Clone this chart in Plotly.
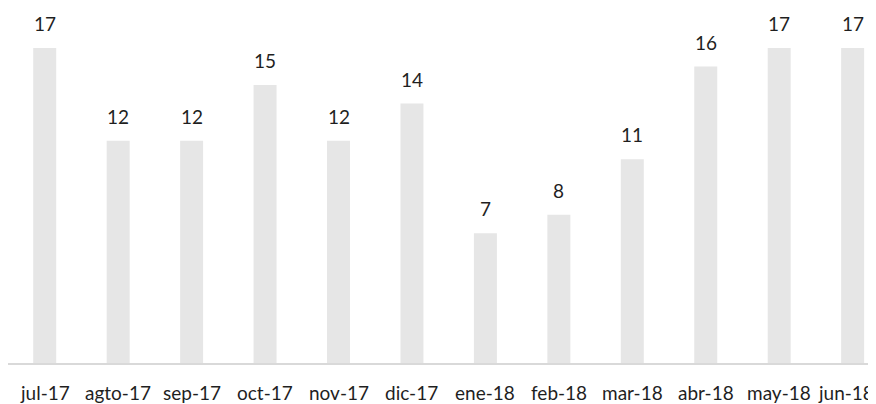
import plotly.graph_objects as go

categories = ["jul-17", "agto-17", "sep-17", "oct-17", "nov-17", "dic-17",
              "ene-18", "feb-18", "mar-18", "abr-18", "may-18", "jun-18"]
values = [17, 12, 12, 15, 12, 14, 7, 8, 11, 16, 17, 17]

FONT = "Lato, 'Open Sans', sans-serif"
TEXT_COLOR = "#1f1f1f"

fig = go.Figure()
fig.add_trace(go.Bar(
    x=list(range(len(categories))),
    y=values,
    marker=dict(color="#e6e6e6", line=dict(width=0)),
    hoverinfo="skip",
))

# value labels above bars
for i, v in enumerate(values):
    fig.add_annotation(
        x=i, y=v, text=str(v), showarrow=False,
        yanchor="bottom", yshift=11,
        font=dict(family=FONT, size=19, color=TEXT_COLOR),
    )

# category labels below the baseline
last = len(categories) - 1
for i, c in enumerate(categories):
    if i == last:
        # keep the last label inside the page edge
        fig.add_annotation(
            x=1, xref="paper", y=0, yref="paper", text=c, showarrow=False,
            xanchor="right", yanchor="top", yshift=-16,
            font=dict(family=FONT, size=19, color=TEXT_COLOR),
        )
    else:
        fig.add_annotation(
            x=i, xref="x", y=0, yref="paper", text=c, showarrow=False,
            yanchor="top", yshift=-16,
            font=dict(family=FONT, size=19, color=TEXT_COLOR),
        )

fig.update_layout(
    width=868, height=396,
    margin=dict(l=0, r=0, t=0, b=41, autoexpand=False),
    paper_bgcolor="white", plot_bgcolor="white",
    bargap=0.687,
    showlegend=False,
    font=dict(family=FONT, size=17, color=TEXT_COLOR),
)
fig.update_xaxes(
    range=[-0.5, 11.318],
    showgrid=False, zeroline=False,
    showline=True, linecolor="#d9d9d9", linewidth=1.5,
    ticks="", showticklabels=False, automargin=False,
)
fig.update_yaxes(
    range=[0, 19.16],
    showgrid=False, zeroline=False, showline=False,
    showticklabels=False, ticks="", automargin=False,
)

fig.write_html("out.html")
